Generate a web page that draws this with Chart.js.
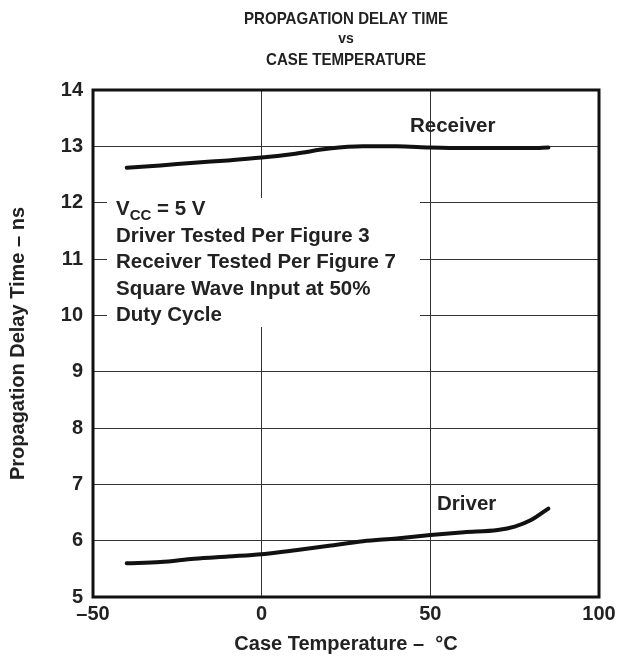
<!DOCTYPE html>
<html>
<head>
<meta charset="utf-8">
<script src="https://cdn.jsdelivr.net/npm/chart.js@4.4.0/dist/chart.umd.min.js"></script>
<style>
  html, body { margin: 0; padding: 0; background: #fff; }
  #wrap { width: 629px; height: 660px; }
</style>
</head>
<body>
<div id="wrap"><canvas id="chart" width="629" height="660"></canvas></div>
<script>
const temps = [-40, -30, -20, -10, 0, 10, 20, 30, 40, 50, 60, 70, 75, 80, 85];
const receiver = [12.62, 12.66, 12.71, 12.75, 12.8, 12.87, 12.96, 13.0, 13.0, 12.98, 12.97, 12.97, 12.97, 12.97, 12.98];
const driver = [5.6, 5.62, 5.68, 5.72, 5.76, 5.83, 5.91, 5.99, 6.04, 6.1, 6.15, 6.19, 6.25, 6.37, 6.57];
const xTicks = [-50, 0, 50, 100];
const yTicks = [5, 6, 7, 8, 9, 10, 11, 12, 13, 14];

const titleLines = ["PROPAGATION DELAY TIME", "vs", "CASE TEMPERATURE"];
const noteLines = ["Driver Tested Per Figure 3", "Receiver Tested Per Figure 7", "Square Wave Input at 50%", "Duty Cycle"];

const FONT = "'Liberation Sans', Arial, sans-serif";
const TXT = 20;

const toPts = ys => temps.map((t, i) => ({ x: t, y: ys[i] }));

// white note box, drawn over the grid but under the curves
const noteBox = {
  id: "noteBox",
  beforeDatasetsDraw(chart) {
    const { ctx } = chart;
    ctx.save();
    ctx.fillStyle = "#fff";
    ctx.fillRect(107, 198, 313, 129);
    ctx.restore();
  },
  afterDraw(chart) {
    const { ctx, chartArea: a } = chart;
    ctx.save();
    // frame
    ctx.strokeStyle = "#111";
    ctx.lineWidth = 3;
    ctx.strokeRect(a.left, a.top, a.right - a.left, a.bottom - a.top);

    ctx.fillStyle = "#222";
    ctx.textBaseline = "alphabetic";

    // title (condensed face in the original, so squeeze it a bit)
    ctx.textAlign = "center";
    const cx = (a.left + a.right) / 2;
    ctx.font = "bold 17px " + FONT;
    ctx.fillText(titleLines[0], cx, 24, 204);
    ctx.font = "bold 14px " + FONT;
    ctx.fillText(titleLines[1], cx, 43, 18);
    ctx.font = "bold 17px " + FONT;
    ctx.fillText(titleLines[2], cx, 65, 160);

    // note text
    ctx.textAlign = "left";
    let x = 116;
    ctx.font = `bold 20.5px ${FONT}`;
    ctx.fillText("V", x, 215);
    x += ctx.measureText("V").width;
    ctx.font = "bold 15px " + FONT;
    ctx.fillText("CC", x, 220);
    x += ctx.measureText("CC").width;
    ctx.font = `bold 20.5px ${FONT}`;
    ctx.fillText(" = 5 V", x, 215);
    noteLines.forEach((s, i) => ctx.fillText(s, 116, 242 + i * 26.3));

    // series labels
    ctx.fillText("Receiver", 410, 132);
    ctx.fillText("Driver", 437, 510);
    ctx.restore();
  }
};

new Chart(document.getElementById("chart"), {
  type: "line",
  data: {
    datasets: [
      { label: "Receiver", data: toPts(receiver) },
      { label: "Driver", data: toPts(driver) }
    ]
  },
  options: {
    responsive: false,
    animation: false,
    events: [],
    layout: { padding: { top: 90, right: 30, left: 0, bottom: 0 } },
    elements: {
      line: { borderColor: "#111", borderWidth: 4, cubicInterpolationMode: "monotone", borderCapStyle: "round" },
      point: { radius: 0 }
    },
    plugins: { legend: { display: false }, tooltip: { enabled: false }, title: { display: false } },
    scales: {
      x: {
        type: "linear",
        min: -50, max: 100,
        afterBuildTicks: s => { s.ticks = xTicks.map(v => ({ value: v })); },
        afterFit: s => { s.height = 63; },
        grid: { color: "#333", lineWidth: 1, drawTicks: false },
        border: { display: false },
        ticks: {
          padding: 5,
          color: "#222",
          font: { family: FONT, size: TXT, weight: "bold" },
          maxRotation: 0,
          callback: v => String(v).replace("-", "\u2013")
        },
        title: {
          display: true,
          text: "Case Temperature \u2013  \u00B0C",
          color: "#222",
          font: { family: FONT, size: TXT, weight: "bold" },
          padding: { top: 2 }
        }
      },
      y: {
        min: 5, max: 14,
        afterBuildTicks: s => { s.ticks = yTicks.map(v => ({ value: v })); },
        afterFit: s => { s.width = 93; },
        grid: { color: "#333", lineWidth: 1, drawTicks: false },
        border: { display: false },
        ticks: {
          padding: 10,
          color: "#222",
          font: { family: FONT, size: TXT, weight: "bold" }
        },
        title: {
          display: true,
          text: "Propagation Delay Time \u2013 ns",
          color: "#222",
          font: { family: FONT, size: TXT, weight: "bold" },
          padding: { bottom: 0, top: 6 }
        }
      }
    }
  },
  plugins: [noteBox]
});
</script>
</body>
</html>
